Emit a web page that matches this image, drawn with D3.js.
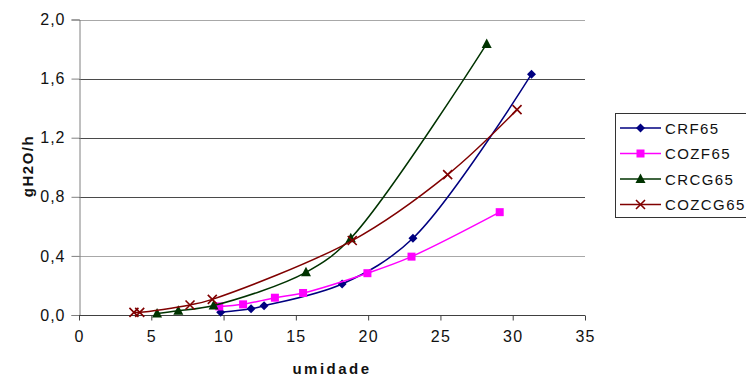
<!DOCTYPE html>
<html>
<head>
<meta charset="utf-8">
<script src="https://cdn.jsdelivr.net/npm/d3@7/dist/d3.min.js"></script>
<style>
  html, body { margin: 0; padding: 0; background: #fff; }
  svg { display: block; font-family: "Liberation Sans", Arial, sans-serif; }
</style>
</head>
<body>
<svg id="chart" width="746" height="377"></svg>
<script>
// Drying rate (gH2O/h) against moisture (umidade) for four samples
const seriesNames = ["CRF65", "COZF65", "CRCG65", "COZCG65"];
const seriesColors = ["#000080", "#ff00ff", "#003300", "#800000"];
const seriesMarkers = ["diamond", "square", "triangle", "cross"];

const crf65X = [9.8, 11.9, 12.8, 18.2, 23.1, 31.3];
const crf65Y = [0.018, 0.042, 0.062, 0.21, 0.52, 1.63];

const cozf65X = [9.7, 11.35, 13.55, 15.5, 19.95, 23.0, 29.1];
const cozf65Y = [0.058, 0.072, 0.117, 0.149, 0.283, 0.395, 0.696];

const crcg65X = [5.4, 6.87, 9.31, 15.7, 18.8, 28.2];
const crcg65Y = [0.01, 0.028, 0.064, 0.289, 0.52, 1.835];

const cozcg65X = [3.8, 4.2, 7.68, 9.22, 18.9, 25.5, 30.3];
const cozcg65Y = [0.018, 0.018, 0.068, 0.106, 0.504, 0.95, 1.39];

const xTicks = [0, 5, 10, 15, 20, 25, 30, 35];
const yTicks = [0.0, 0.4, 0.8, 1.2, 1.6, 2.0];

const seriesX = [crf65X, cozf65X, crcg65X, cozcg65X];
const seriesY = [crf65Y, cozf65Y, crcg65Y, cozcg65Y];

const svg = d3.select("#chart");
const plot = { left: 79, right: 585, top: 19.5, bottom: 315 };

const x = d3.scaleLinear().domain([0, 35]).range([plot.left, plot.right]);
const y = d3.scaleLinear().domain([0, 2]).range([plot.bottom, plot.top]);

// Horizontal gridlines
const gridColors = { 0.4: "#a8a8a8", 0.8: "#4a4a4a", 1.2: "#4a4a4a", 1.6: "#4a4a4a", 2.0: "#a8a8a8" };
svg.append("g")
  .selectAll("line")
  .data(yTicks.filter(d => d > 0))
  .join("line")
  .attr("x1", plot.left).attr("x2", plot.right)
  .attr("y1", d => Math.round(y(d)) + 0.5).attr("y2", d => Math.round(y(d)) + 0.5)
  .attr("stroke", d => gridColors[d] || "#4a4a4a")
  .attr("stroke-width", 1);

// Y axis
const yAxis = d3.axisLeft(y)
  .tickValues(yTicks)
  .tickSize(8)
  .tickPadding(6)
  .tickFormat(d => d3.format(".1f")(d).replace(".", ","));
const gy = svg.append("g").attr("transform", `translate(${plot.left + 0.5},0)`).call(yAxis);
gy.select(".domain").attr("stroke", "#808080");
gy.selectAll(".tick line").attr("stroke", "#808080");
gy.selectAll(".tick text").attr("font-size", 16).attr("fill", "#111")
  .attr("letter-spacing", 1)
  .attr("font-family", "'Liberation Sans', Arial, sans-serif");

// X axis
const xAxis = d3.axisBottom(x)
  .tickValues(xTicks)
  .tickSize(5)
  .tickPadding(10)
  .tickFormat(d3.format("d"));
const gx = svg.append("g").attr("transform", `translate(0,${plot.bottom + 0.5})`).call(xAxis);
gx.select(".domain").attr("stroke", "#404040").attr("d", `M${plot.left},0H${plot.right}`);
gx.selectAll(".tick line").attr("stroke", "#404040");
gx.selectAll(".tick text").attr("font-size", 16).attr("fill", "#111")
  .attr("letter-spacing", 1.2)
  .attr("font-family", "'Liberation Sans', Arial, sans-serif");

// Axis titles
svg.append("text")
  .attr("transform", `translate(33,166) rotate(-90)`)
  .attr("text-anchor", "middle")
  .attr("font-size", 15).attr("font-weight", "bold").attr("fill", "#111")
  .attr("letter-spacing", 1.5)
  .text("gH2O/h");
svg.append("text")
  .attr("x", 332).attr("y", 374)
  .attr("text-anchor", "middle")
  .attr("font-size", 15).attr("font-weight", "bold").attr("fill", "#111")
  .attr("letter-spacing", 2.5)
  .text("umidade");

// Marker drawing
function drawMarker(g, type, color, size) {
  const s = size / 2;
  if (type === "diamond") {
    g.append("path").attr("d", `M0,${-s}L${s},0L0,${s}L${-s},0Z`).attr("fill", color);
  } else if (type === "square") {
    g.append("rect").attr("x", -s + 0.5).attr("y", -s + 0.5).attr("width", size - 1).attr("height", size - 1).attr("fill", color);
  } else if (type === "triangle") {
    g.append("path").attr("d", `M0,${-s - 1}L${s + 0.5},${s - 0.5}L${-s - 0.5},${s - 0.5}Z`).attr("fill", color);
  } else if (type === "cross") {
    g.append("path").attr("d", `M${-s},${-s}L${s},${s}M${-s},${s}L${s},${-s}`)
      .attr("stroke", color).attr("stroke-width", 1.6).attr("fill", "none");
  }
}

const line = d3.line()
  .x(d => x(d[0]))
  .y(d => y(d[1]))
  .curve(d3.curveCatmullRom.alpha(0.5));

seriesNames.forEach((name, i) => {
  const pts = seriesX[i].map((v, j) => [v, seriesY[i][j]]);
  const g = svg.append("g");
  g.append("path")
    .attr("d", line(pts))
    .attr("fill", "none")
    .attr("stroke", seriesColors[i])
    .attr("stroke-width", 1.5);
  pts.forEach(p => {
    const m = g.append("g").attr("transform", `translate(${x(p[0])},${y(p[1])})`);
    drawMarker(m, seriesMarkers[i], seriesColors[i], 9);
  });
});

// Legend
const legend = svg.append("g");
legend.append("rect")
  .attr("x", 615.5).attr("y", 113.5)
  .attr("width", 140).attr("height", 104)
  .attr("fill", "#fff").attr("stroke", "#333").attr("stroke-width", 1);
seriesNames.forEach((name, i) => {
  const ly = 128 + i * 25.5;
  const row = legend.append("g").attr("transform", `translate(0,${ly})`);
  row.append("line").attr("x1", 620).attr("x2", 661).attr("y1", 0).attr("y2", 0)
    .attr("stroke", seriesColors[i]).attr("stroke-width", 1.5);
  const m = row.append("g").attr("transform", "translate(640.5,0)");
  drawMarker(m, seriesMarkers[i], seriesColors[i], 9);
  row.append("text").attr("x", 665).attr("y", 5.5)
    .attr("font-size", 15).attr("fill", "#111")
    .attr("letter-spacing", 1.4)
    .text(name);
});
</script>
</body>
</html>
